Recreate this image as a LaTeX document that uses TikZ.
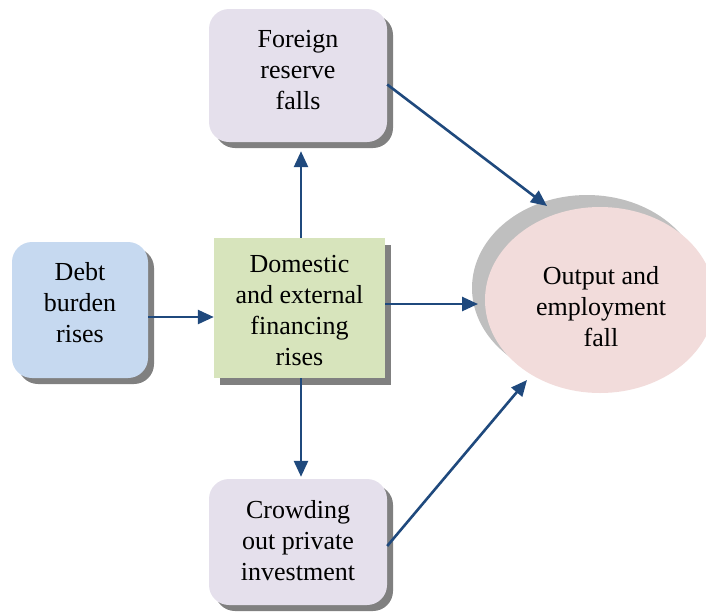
\documentclass[tikz,border=0pt]{standalone}
\usepackage{fontspec}
\setmainfont{Liberation Serif}
\newfontfamily\tnr{Liberation Serif}
\usetikzlibrary{arrows.meta,shadows,calc,shapes.geometric}
\definecolor{lav}{HTML}{E5E0EC}
\definecolor{lblue}{HTML}{C6D9F0}
\definecolor{lgreen}{HTML}{D7E4BC}
\definecolor{lpink}{HTML}{F2DCDB}
\definecolor{shgray}{HTML}{808080}
\definecolor{elgray}{HTML}{BFBFBF}
\definecolor{arrblue}{HTML}{1F497D}
\tikzset{
  txt/.style={font=\tnr\fontsize{26}{31}\selectfont, align=center, inner sep=0pt},
  rbox/.style={rounded corners=20pt, draw=none, inner sep=0pt,
    drop shadow={shadow xshift=6pt, shadow yshift=-6pt, fill=shgray, opacity=1}},
  sbox/.style={draw=none, inner sep=0pt,
    drop shadow={shadow xshift=6pt, shadow yshift=-7pt, fill=shgray, opacity=1}},
  arr/.style={draw=arrblue, line width=2.6pt, -{Triangle[length=16pt,width=14pt]}}
}
\begin{document}
\begin{tikzpicture}[x=1pt,y=-1pt]
\useasboundingbox (0,0) rectangle (706,611);
% boxes
\node[rbox, fill=lav, minimum width=178pt, minimum height=133pt] (fr) at (298,75.5) {};
\node[txt] (frt) at (298,70.5) {Foreign\\reserve\\falls};
\node[rbox, fill=lblue, minimum width=136pt, minimum height=136pt] (db) at (80,310) {};
\node[txt] (dbt) at (80,303) {Debt\\burden\\rises};
\node[sbox, fill=lgreen, minimum width=171pt, minimum height=140pt] (dom) at (299.5,308) {};
\node[txt] (domt) at (299.5,311) {Domestic\\and external\\financing\\rises};
\node[rbox, fill=lav, minimum width=178pt, minimum height=126pt] (cr) at (298,542) {};
\node[txt] (crt) at (298,541) {Crowding\\out private\\investment};
% ellipse with shadow
\node[ellipse, fill=elgray, minimum width=230pt, minimum height=186pt, inner sep=0pt] (osh) at (587,288) {};
\node[ellipse, fill=lpink, minimum width=230pt, minimum height=186pt, inner sep=0pt] (out) at (600,300) {};
\node[txt] (outt) at (601,307) {Output and\\employment\\fall};
% arrow end points near ellipse
\coordinate (e1) at (547,206);
\coordinate (e2) at (478,304);
\coordinate (e3) at (527,380);
\coordinate (vx) at (301,0);
% connectors
\draw[arr] ($(db.east)+(0,7)$) -- ($(dom.west)+(0,9)$);
\draw[arr] (dom.north -| vx) -- ($(fr.south -| vx)+(0,9)$);
\draw[arr] (dom.south -| vx) -- ($(cr.north -| vx)+(0,-2)$);
\draw[arr] (dom.east |- e2) -- (e2);
\draw[arr] ($(fr.east)+(0,9)$) -- (e1);
\draw[arr] ($(cr.east)+(0,4)$) -- (e3);
\end{tikzpicture}
\end{document}
